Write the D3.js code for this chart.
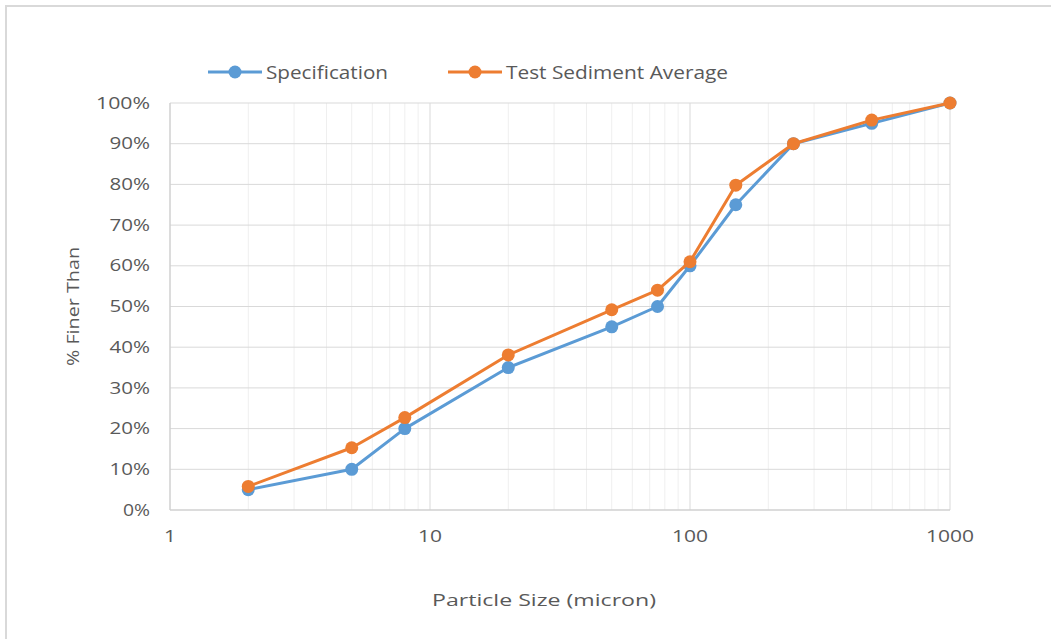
<!DOCTYPE html>
<html>
<head>
<meta charset="utf-8">
<script src="https://cdn.jsdelivr.net/npm/d3@7"></script>
<style>
  body { margin: 0; background: #fff; }
  text { font-family: "Open Sans", sans-serif; fill: #595959; }
</style>
</head>
<body>
<div id="chart"></div>
<script>
const sizes = [2, 5, 8, 20, 50, 75, 100, 150, 250, 500, 1000]
const specValues = [5, 10, 20, 35, 45, 50, 60, 75, 90, 95, 100]
const testValues = [5.8, 15.3, 22.7, 38.1, 49.2, 54, 61, 79.8, 90, 95.8, 100]
const xTicks = [1, 10, 100, 1000]
const yTicks = [0, 10, 20, 30, 40, 50, 60, 70, 80, 90, 100]

const width = 1051
const height = 639
const margin = { left: 170, right: 101, top: 103, bottom: 129 }

const svg = d3.select("#chart").append("svg")
    .attr("width", width)
    .attr("height", height)

// outer chart border (right/bottom edges run off the picture)
svg.append("rect")
    .attr("x", 6).attr("y", 6)
    .attr("width", width + 20).attr("height", height + 20)
    .attr("fill", "none")
    .attr("stroke", "#d9d9d9")
    .attr("stroke-width", 2)

const x = d3.scaleLog().domain([1, 1000]).range([margin.left, width - margin.right])
const y = d3.scaleLinear().domain([0, 100]).range([height - margin.bottom, margin.top])

// minor grid
const minor = []
for (let d = 1; d < 1000; d *= 10) {
    for (let k = 2; k <= 9; k++) minor.push(d * k)
}
svg.append("g").selectAll("line").data(minor).enter().append("line")
    .attr("x1", d => x(d)).attr("x2", d => x(d))
    .attr("y1", y(0)).attr("y2", y(100))
    .attr("stroke", "#efefef").attr("stroke-width", 1)

// major grid
svg.append("g").selectAll("line").data(xTicks.slice(1)).enter().append("line")
    .attr("x1", d => x(d)).attr("x2", d => x(d))
    .attr("y1", y(0)).attr("y2", y(100))
    .attr("stroke", "#d9d9d9").attr("stroke-width", 1)

svg.append("g").selectAll("line").data(yTicks.slice(1)).enter().append("line")
    .attr("x1", x(1)).attr("x2", x(1000))
    .attr("y1", d => y(d)).attr("y2", d => y(d))
    .attr("stroke", "#d9d9d9").attr("stroke-width", 1)

// axis lines
svg.append("line")
    .attr("x1", x(1)).attr("x2", x(1000)).attr("y1", y(0)).attr("y2", y(0))
    .attr("stroke", "#d0d0d0").attr("stroke-width", 1.5)
svg.append("line")
    .attr("x1", x(1)).attr("x2", x(1)).attr("y1", y(0)).attr("y2", y(100))
    .attr("stroke", "#d0d0d0").attr("stroke-width", 1.5)

// tick labels (the original font is wide, so stretch to fit)
svg.append("g").selectAll("text").data(yTicks).enter().append("text")
    .attr("x", x(1) - 20)
    .attr("y", d => y(d))
    .attr("dy", "0.35em")
    .attr("text-anchor", "end")
    .attr("font-size", 16)
    .attr("textLength", d => (String(d).length + 1) * 13.5)
    .attr("lengthAdjust", "spacingAndGlyphs")
    .text(d => d + "%")

svg.append("g").selectAll("text").data(xTicks).enter().append("text")
    .attr("x", d => x(d))
    .attr("y", y(0) + 32)
    .attr("text-anchor", "middle")
    .attr("font-size", 16)
    .attr("textLength", d => String(d).length * 12)
    .attr("lengthAdjust", "spacingAndGlyphs")
    .text(d => d)

// axis titles
svg.append("text")
    .attr("x", 544)
    .attr("y", 606)
    .attr("text-anchor", "middle")
    .attr("font-size", 17)
    .attr("textLength", 224)
    .attr("lengthAdjust", "spacingAndGlyphs")
    .text("Particle Size (micron)")

svg.append("text")
    .attr("transform", `translate(79,${(y(0) + y(100)) / 2}) rotate(-90)`)
    .attr("text-anchor", "middle")
    .attr("font-size", 17)
    .attr("textLength", 119)
    .attr("lengthAdjust", "spacingAndGlyphs")
    .text("% Finer Than")

// series
const series = [
    { name: "Specification", values: specValues, color: "#5b9bd5" },
    { name: "Test Sediment Average", values: testValues, color: "#ed7d31" }
]

const line = d3.line()
    .x((d, i) => x(sizes[i]))
    .y(d => y(d))

series.forEach(s => {
    svg.append("path")
        .datum(s.values)
        .attr("fill", "none")
        .attr("stroke", s.color)
        .attr("stroke-width", 3)
        .attr("stroke-linejoin", "round")
        .attr("d", line)

    svg.append("g").selectAll("circle").data(s.values).enter().append("circle")
        .attr("cx", (d, i) => x(sizes[i]))
        .attr("cy", d => y(d))
        .attr("r", 6.5)
        .attr("fill", s.color)
})

// legend
const legendX = [208, 448]
const legendW = [122, 222]
series.forEach((s, i) => {
    const g = svg.append("g").attr("transform", `translate(${legendX[i]},72)`)
    g.append("line")
        .attr("x1", 0).attr("x2", 54)
        .attr("stroke", s.color).attr("stroke-width", 3)
    g.append("circle").attr("cx", 27).attr("r", 6.5).attr("fill", s.color)
    g.append("text")
        .attr("x", 58)
        .attr("dy", "0.35em")
        .attr("font-size", 19)
        .attr("textLength", legendW[i])
        .attr("lengthAdjust", "spacingAndGlyphs")
        .text(s.name)
})
</script>
</body>
</html>
